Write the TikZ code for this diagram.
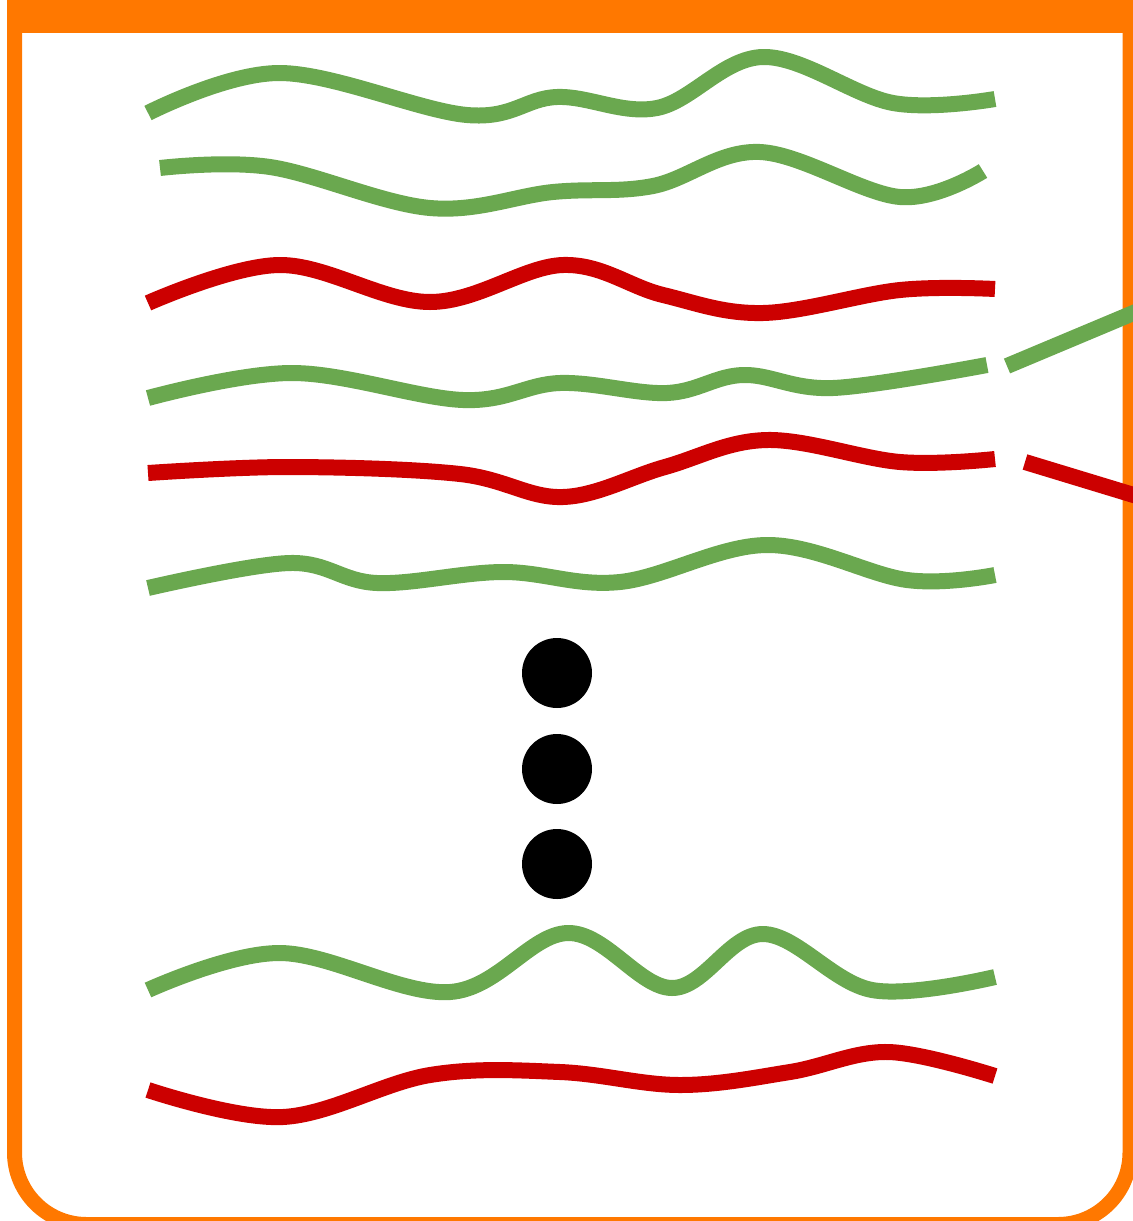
\documentclass[tikz,border=0pt]{standalone}
\usepackage{xcolor}
\usepackage{tikz}

\definecolor{wallorange}{HTML}{FF7800}
\definecolor{strandgreen}{HTML}{6AA84F}
\definecolor{strandred}{HTML}{CC0000}

\begin{document}
\begin{tikzpicture}[
    x=0.5pt, y=-0.5pt,
    wall/.style={draw=wallorange,line width=7.5pt,rounded corners=36pt},
    greenstrand/.style={draw=strandgreen,line width=8pt},
    redstrand/.style={draw=strandred,line width=8pt},
    every node/.style={fill=black,circle,minimum size=35pt,inner sep=0pt}
  ]
    \useasboundingbox (0,0) rectangle (1133,1221);
    \clip (0,0) rectangle (1133,1221);
    % container
    \draw[wall] (14.5,20) -- (14.5,1224.5) -- (1130,1224.5) -- (1130,20);
    \fill[wallorange] (6.5,-5) rectangle (1145,33);
    % strands
    \draw[greenstrand] plot[smooth,tension=0.6] coordinates {(148,113) (280,73) (467,115) (557,97) (657,108) (763,57) (893,103) (995,99)};
    \draw[greenstrand] plot[smooth,tension=0.6] coordinates {(160,168) (270,167) (430,208) (553,192) (653,186) (760,152) (900,197) (983,171)};
    \draw[redstrand] plot[smooth,tension=0.6] coordinates {(148,303) (280,265) (430,302) (563,265) (663,295) (763,313) (900,290) (995,289)};
    \draw[greenstrand] plot[smooth,tension=0.6] coordinates {(148,398) (293,373) (463,400) (560,383) (667,393) (743,375) (833,388) (987,365)};
    \draw[redstrand] plot[smooth,tension=0.6] coordinates {(148,473) (290,467) (460,474) (563,497) (665,467) (767,440) (900,462) (995,459)};
    \draw[greenstrand] plot[smooth,tension=0.6] coordinates {(148,588) (290,563) (377,583) (503,572) (620,582) (767,545) (907,580) (995,575)};
    \draw[greenstrand] plot[smooth,tension=0.6] coordinates {(148,990) (280,953) (450,992) (568,933) (672,988) (763,934) (872,990) (995,977)};
    \draw[redstrand] plot[smooth,tension=0.6] coordinates {(148,1090) (283,1117) (430,1075) (560,1072) (680,1085) (790,1072) (888,1052) (995,1076)};
    % leaving strands
    \coordinate (gout) at (1007,366);
    \coordinate (gexit) at (1150,306);
    \coordinate (rout) at (1025,462);
    \coordinate (rexit) at (1150,500);
    \draw[greenstrand] (gout) -- (gexit);
    \draw[redstrand] (rout) -- (rexit);
    % dots
    \node (dot1) at (557,673) {};
    \node (dot2) at (557,769) {};
    \node (dot3) at (557,864) {};
\end{tikzpicture}
\end{document}
